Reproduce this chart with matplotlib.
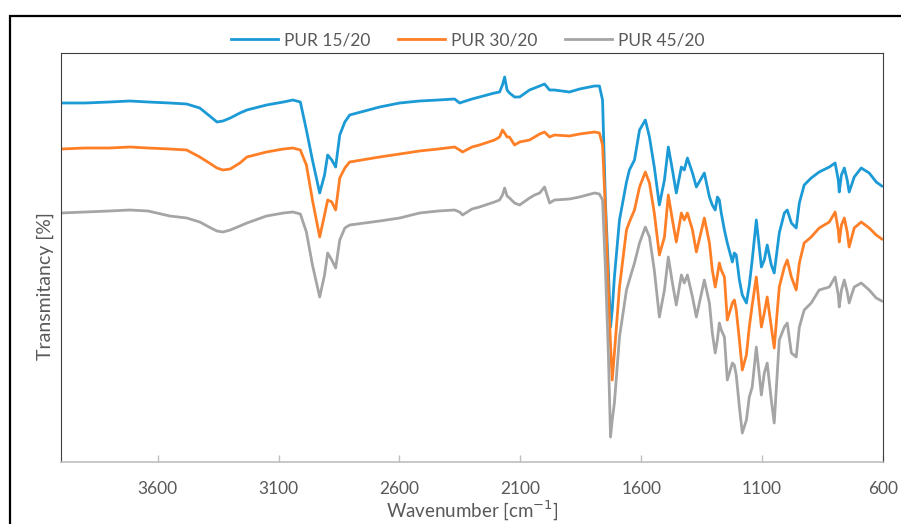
import matplotlib
matplotlib.use("Agg")
import matplotlib.pyplot as plt
from matplotlib.patches import Rectangle

plt.rcParams['font.family'] = ['Lato', 'DejaVu Sans']

wavenumber = [4000, 3900, 3800, 3715, 3640, 3550, 3480, 3426, 3380, 3355,
              3330, 3300, 3260, 3231, 3150, 3080, 3041, 3010, 2985, 2960,
              2930, 2910, 2897, 2880, 2864, 2847, 2826, 2806, 2682, 2599,
              2517, 2440, 2372, 2351, 2339, 2300, 2269, 2207, 2186, 2174,
              2165, 2155, 2145, 2124, 2103, 2062, 2041, 2020, 2000, 1979,
              1959, 1897, 1855, 1793, 1773, 1760, 1748, 1736, 1727, 1720,
              1711, 1690, 1661, 1649, 1628, 1607, 1583, 1566, 1546, 1525,
              1504, 1488, 1471, 1455, 1434, 1422, 1409, 1388, 1372, 1339,
              1318, 1306, 1294, 1285, 1277, 1269, 1256, 1244, 1223, 1215,
              1207, 1194, 1182, 1165, 1153, 1141, 1124, 1103, 1091, 1079,
              1062, 1050, 1029, 1008, 996, 979, 959, 946, 926, 897,
              864, 822, 798, 785, 781, 772, 760, 748, 740, 730,
              719, 690, 657, 628, 605]

pur_15_20 = [89.75, 89.75, 90, 90.25, 90, 89.75, 89.5, 88.5, 86.25, 85,
             85.25, 86, 87.25, 88, 89.25, 90, 90.5, 90, 83, 75.5,
             67.25, 71.75, 76.75, 75.5, 73.75, 81.75, 85, 86.75, 88.75, 89.75,
             90.25, 90.5, 90.75, 89.75, 90, 90.75, 91.25, 92.25, 92.5, 94.25,
             96.25, 93, 92.25, 91.25, 91.25, 93, 93.5, 94, 94.5, 93,
             93, 92.5, 93.25, 94, 94, 90.5, 64.75, 48, 33.75, 38,
             46.25, 60.5, 70, 73, 75.5, 83, 85.5, 81.25, 73.75, 64.25,
             70.5, 78.75, 73, 67.25, 73.75, 73, 76, 72.25, 68.75, 72.25,
             66.25, 64.25, 63, 66.25, 65.5, 62.25, 58, 54.75, 50, 52.25,
             51.75, 45.5, 41.75, 39.75, 44.25, 50.5, 60.5, 48.75, 50.5, 54.25,
             49.25, 47.25, 57.25, 62.25, 63, 59.75, 58.5, 64.75, 69.25, 71,
             72.5, 73.75, 74.75, 70.5, 67.5, 71.75, 73.5, 70.5, 67.5, 69.25,
             71.25, 73.5, 72.25, 70, 69]

pur_30_20 = [78.25, 78.5, 78.5, 78.75, 78.5, 78.25, 78, 76.25, 74.5, 73.5,
             73, 73.25, 74.75, 76.25, 77.5, 78.25, 78.5, 78, 74.25, 65.5,
             56.25, 61.75, 65.5, 65, 63, 71, 73.5, 75, 76.25, 77,
             77.75, 78.25, 78.75, 78, 77.5, 78.75, 79.25, 80.5, 81.25, 83,
             82.25, 81.25, 81.25, 79.25, 80, 80.5, 81.25, 82, 82.5, 81.25,
             81.75, 81.5, 82, 82.5, 82.25, 79.25, 63, 43, 29.25, 20.5,
             27.25, 43.75, 58, 60, 63, 68.75, 72.5, 69.75, 62.25, 51.75,
             56.25, 66.75, 60.5, 55, 62.25, 60.5, 62.25, 58, 52.5, 61,
             54.75, 48, 43.75, 46.75, 49.75, 48, 46.25, 35.5, 39.75, 40.5,
             38, 30.5, 23, 26.75, 33.75, 39.25, 46.25, 33.75, 37.25, 41.25,
             33.75, 28.5, 43.75, 48.75, 50.5, 46.25, 43, 49.75, 54.75, 56.25,
             58.5, 60, 62.5, 58, 55, 59.25, 61, 57.5, 53.75, 56,
             58.5, 60, 58.5, 56.75, 55.75]

pur_45_20 = [62.25, 62.5, 62.75, 63, 62.75, 61.5, 61, 60, 58.5, 57.75,
             57.5, 58, 59, 59.75, 61.5, 62.25, 62.5, 62, 57.5, 49.25,
             41.25, 46.75, 52.25, 50.5, 48.5, 55.5, 58.5, 59.25, 60.25, 61,
             62.25, 62.75, 63, 62.5, 61.75, 63.25, 63.75, 65, 65.5, 66.75,
             68.5, 66.5, 66, 64.75, 64.25, 66, 66.75, 67.25, 68.75, 64.75,
             65.5, 65.75, 66.25, 67.25, 67, 65.5, 48, 27.25, 6.25, 10.5,
             14.75, 31.25, 43, 45.5, 49.75, 54.75, 58.75, 56.25, 48, 36.25,
             43, 51.25, 44.75, 39.25, 46.75, 44.75, 46.75, 41.25, 36.25, 45.5,
             39.75, 32.25, 27.25, 30.5, 34.75, 33, 31.25, 20.5, 24.75, 24.25,
             21.75, 13.75, 7.25, 10.5, 16.25, 18.75, 28.75, 16.75, 22.25, 24.75,
             15.5, 9.75, 30.5, 33.75, 34.75, 27.25, 26.25, 33.75, 38, 39.75,
             43, 43.75, 46.25, 41.75, 38.75, 43, 45.5, 42.5, 39.75, 41.75,
             43.75, 44.75, 43, 41, 40.25]

series_names = ['PUR 15/20', 'PUR 30/20', 'PUR 45/20']
series_colors = ['#1B9AD6', '#FF7F27', '#A5A5A5']
x_ticks = [3600, 3100, 2600, 2100, 1600, 1100, 600]

W, H = 901, 524
fig = plt.figure(figsize=(W / 100, H / 100), dpi=100)
ax = fig.add_axes([61 / W, 1 - 462 / H, (883 - 61) / W, (462 - 53) / H])

for vals, name, col in zip([pur_15_20, pur_30_20, pur_45_20], series_names, series_colors):
    ax.plot(wavenumber, vals, color=col, lw=2.0, label=name, solid_joinstyle='round')

ax.set_xlim(4000, 600)
ax.set_ylim(0, 409 / 4)
ax.set_xticks(x_ticks)
ax.set_xticklabels([str(t) for t in x_ticks])
ax.set_yticks([])
ax.tick_params(axis='x', direction='in', length=5, width=1, color='#BFBFBF',
               labelsize=12.5, labelcolor='#595959', pad=14)
for s in ['left', 'top', 'right']:
    ax.spines[s].set_color('#404040')
    ax.spines[s].set_linewidth(0.8)
ax.spines['bottom'].set_color('#BFBFBF')
ax.spines['bottom'].set_linewidth(1.2)

fig.text(472 / W, 1 - 511 / H, 'Wavenumber [cm$^{-1}$]', ha='center', va='center',
         fontsize=13.5, color='#595959')
fig.text(45 / W, 1 - 286 / H, 'Transmitancy [%]', ha='center', va='center',
         rotation=90, fontsize=14, color='#595959')

fig.legend(loc='center', bbox_to_anchor=(468 / W, 1 - 40 / H), ncol=3, frameon=False,
           fontsize=12.5, labelcolor='#595959', handlelength=2.7, handletextpad=0.35,
           columnspacing=1.6)

fig.patches.append(Rectangle((9.5 / W, -0.1), 1.2, 1 - 15.5 / H + 0.1,
                             transform=fig.transFigure, fill=False,
                             edgecolor='black', linewidth=1.6, clip_on=False))

fig.savefig('out.png', dpi=100)
